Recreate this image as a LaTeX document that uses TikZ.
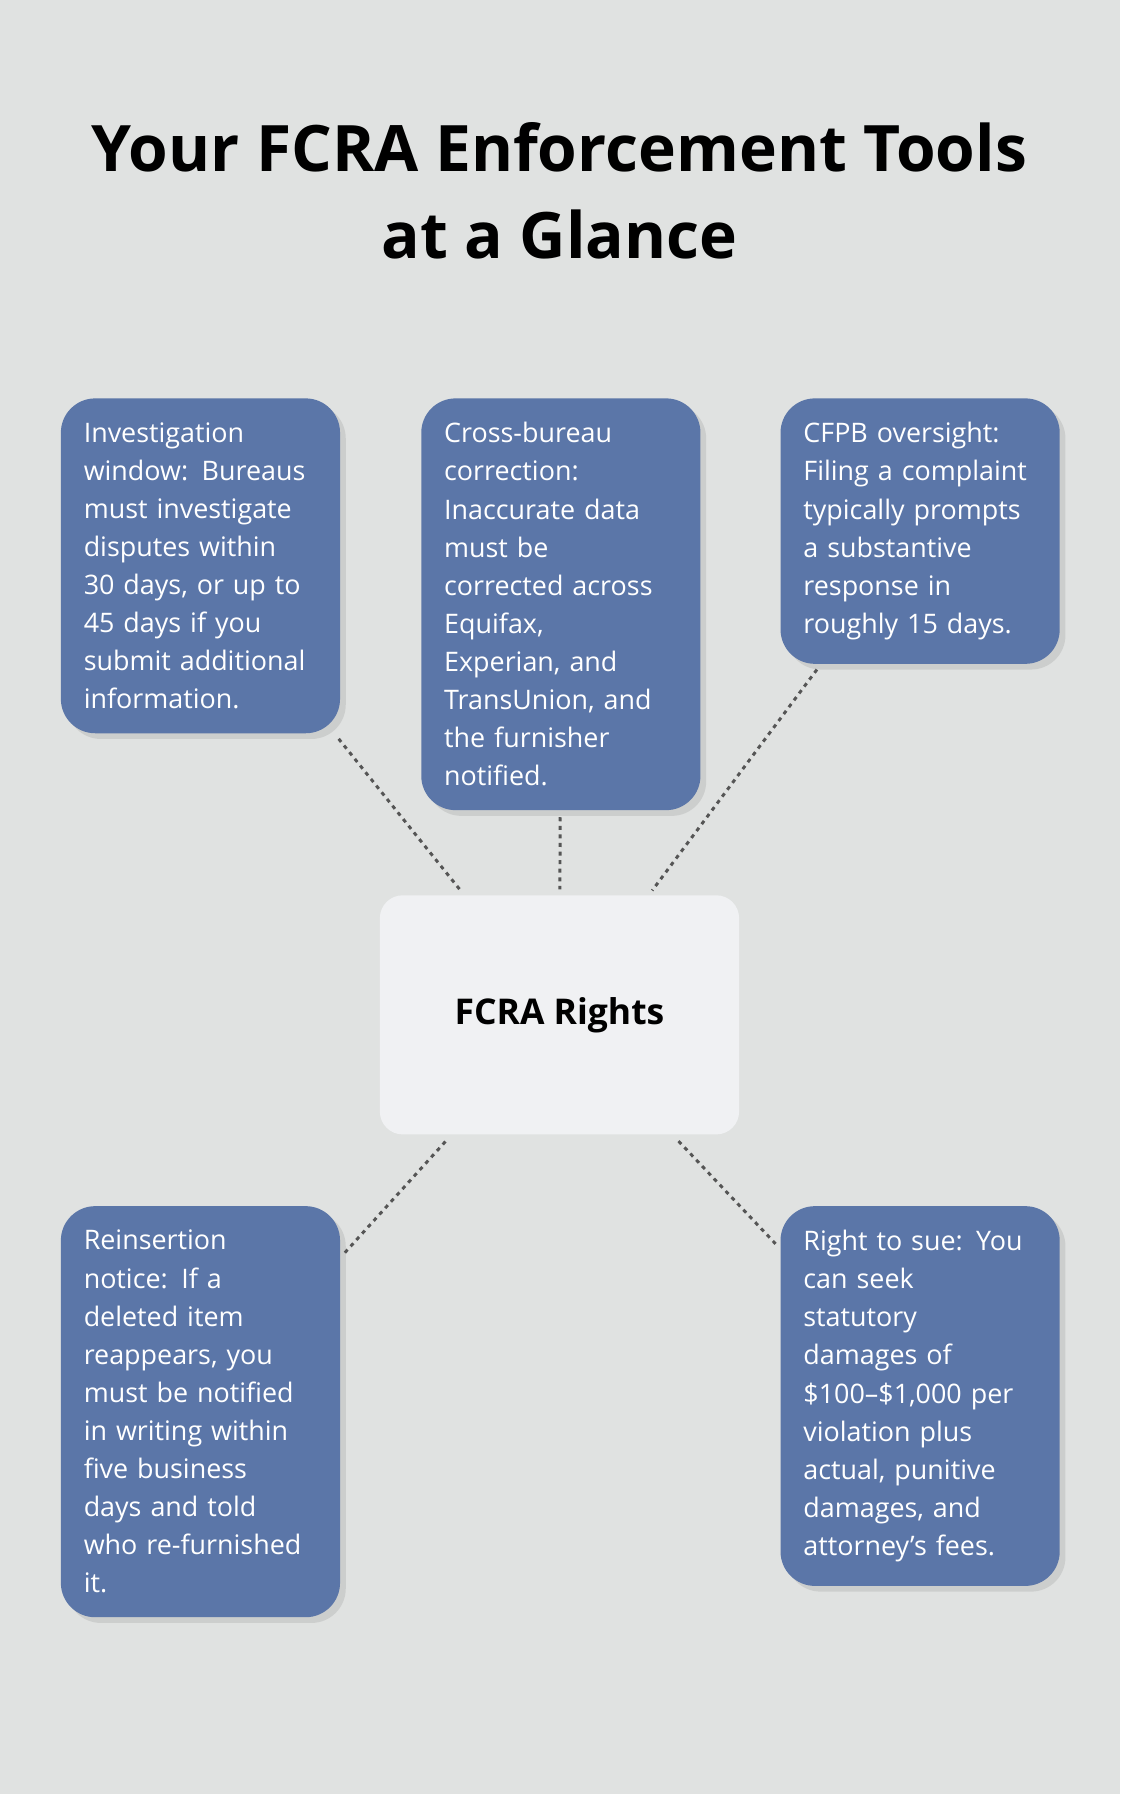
\documentclass[tikz,border=0pt]{standalone}
\usepackage{fontspec}
\setmainfont{Open Sans}
\usetikzlibrary{shadows}
\definecolor{bgcol}{HTML}{E0E2E1}
\definecolor{boxcol}{HTML}{5B76A8}
\definecolor{hubcol}{HTML}{F0F1F3}
\definecolor{linecol}{HTML}{555555}
\tikzset{
  tip/.style={anchor=north west, fill=boxcol, text=white, rounded corners=30pt,
    text width=204pt, align=left, inner xsep=20pt, inner ysep=21pt,
    font=\fontsize{23.5}{33.3}\selectfont,
    drop shadow={shadow xshift=5pt, shadow yshift=-5pt, opacity=0.2}},
  hub/.style={fill=hubcol, rounded corners=20pt, minimum width=314pt,
    minimum height=209pt, font=\bfseries\fontsize{31}{36}\selectfont},
  link/.style={draw=linecol, line width=2.6pt, dash pattern=on 3.5pt off 4pt,
    shorten <=6pt, shorten >=5pt}
}
\begin{document}
\begin{tikzpicture}[x=1pt,y=-1pt]
  % background
  \fill[bgcol] (0,0) rectangle (979,1568);
  \useasboundingbox (0,0) rectangle (979,1568);

  % title
  \node[font=\bfseries\fontsize{56}{76}\selectfont, align=center] (title) at (489,167)
    {Your FCRA Enforcement Tools\\at a Glance};

  % hub
  \node[hub] (rights) at (489,887) {FCRA Rights};

  % boxes
  \node[tip] (window) at (53,348) {Investigation\\window: Bureaus\\must investigate\\disputes within\\30 days, or up to\\45 days if you\\submit additional\\information.};
  \node[tip] (cross) at (368,348) {Cross-bureau\\correction:\\Inaccurate data\\must be\\corrected across\\Equifax,\\Experian, and\\TransUnion, and\\the furnisher\\notified.};
  \node[tip] (cfpb) at (682,348) {CFPB oversight:\\Filing a complaint\\typically prompts\\a substantive\\response in\\roughly 15 days.};
  \node[tip] (reinsert) at (53,1054) {Reinsertion\\notice: If a\\deleted item\\reappears, you\\must be notified\\in writing within\\five business\\days and told\\who re-furnished\\it.};
  \node[tip] (sue) at (682,1054) {Right to sue: You\\can seek\\statutory\\damages of\\\$100–\$1,000 per\\violation plus\\actual, punitive\\damages, and\\attorney’s fees.};

  % connectors
  \foreach \b in {window,cross,cfpb,reinsert,sue}
    \draw[link] (\b) -- (rights);
\end{tikzpicture}
\end{document}
